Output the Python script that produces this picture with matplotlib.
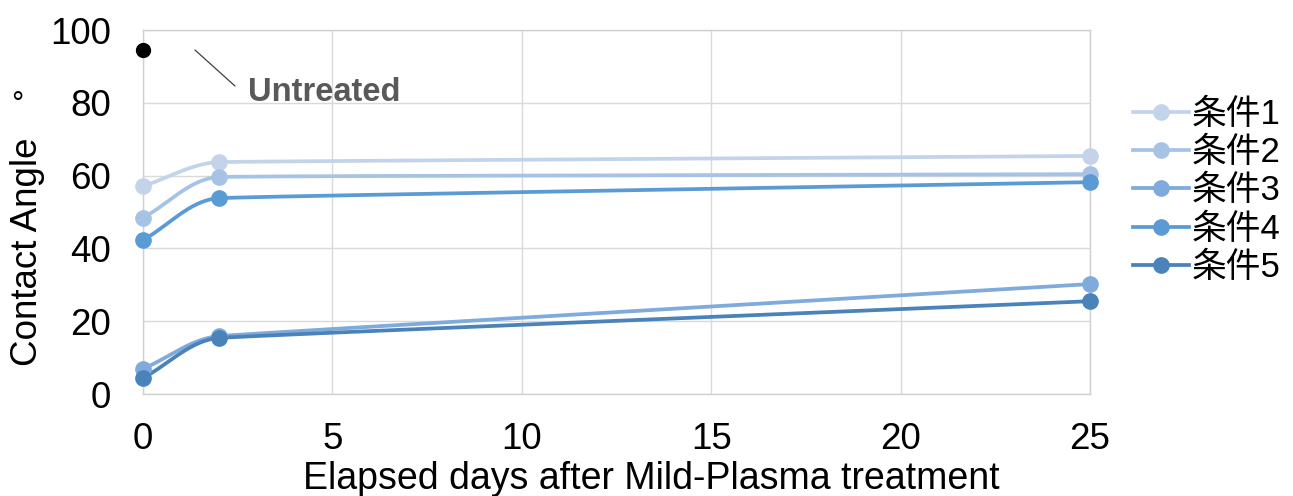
import numpy as np
import matplotlib
matplotlib.use('Agg')
import matplotlib.pyplot as plt
from matplotlib.transforms import offset_copy

plt.rcParams['font.family'] = ['Liberation Sans', 'Noto Sans CJK JP', 'DejaVu Sans']

# data
days = [0, 2, 25]
series_names = ['条件1', '条件2', '条件3', '条件4', '条件5']
series_values = [
    [57.1, 63.7, 65.4],
    [48.4, 59.6, 60.4],
    [6.9, 15.9, 30.2],
    [42.3, 53.8, 58.2],
    [4.4, 15.4, 25.5],
]
series_colors = ['#c3d4ea', '#a6c3e5', '#7eaadc', '#5b9bd5', '#4a82ba']
untreated_day = 0
untreated_angle = 94.5


def smooth(ax, x, y, n=200):
    # spreadsheet-style smoothed line: cubic Bezier pieces built in screen space
    P = ax.transData.transform(np.column_stack([x, y]).astype(float))
    k = len(P)
    L = np.hypot(*(np.diff(P, axis=0).T))
    T = np.zeros_like(P)
    for i in range(1, k - 1):
        v = P[i + 1] - P[i - 1]
        T[i] = v / np.hypot(*v)
    T[0] = (P[1] - P[0]) / L[0]
    T[-1] = (P[-1] - P[-2]) / L[-1]
    pts = []
    t = np.linspace(0, 1, n)[:, None]
    for i in range(k - 1):
        a = L[i] if i == 0 else min(L[i - 1], L[i])
        b = L[i] if i == k - 2 else min(L[i], L[i + 1])
        c1 = P[i] + T[i] * a / 3
        c2 = P[i + 1] - T[i + 1] * b / 3
        seg = ((1 - t) ** 3 * P[i] + 3 * (1 - t) ** 2 * t * c1
               + 3 * (1 - t) * t ** 2 * c2 + t ** 3 * P[i + 1])
        pts.append(seg)
    d = ax.transData.inverted().transform(np.vstack(pts))
    return d[:, 0], d[:, 1]


fig = plt.figure(figsize=(12.93, 4.96), dpi=100)
ax = fig.add_axes([0.1106, 0.2056, 0.7324, 0.7339])
ax.set_xlim(0, 25)
ax.set_ylim(0, 100)

for name, vals, col in zip(series_names, series_values, series_colors):
    sx, sy = smooth(ax, days, vals)
    ax.plot(sx, sy, color=col, lw=2.7, clip_on=False, zorder=3)
    ax.plot(days, vals, 'o', color=col, ms=11, clip_on=False, zorder=4)
    ax.plot([], [], '-o', color=col, lw=2.7, ms=11, label=name)

ax.plot([untreated_day], [untreated_angle], 'o', color='black', ms=10, clip_on=False, zorder=5)

# leader line and label for the untreated point
t1 = offset_copy(ax.transData, fig=fig, x=52, y=0, units='dots')
ax.annotate('', xy=(untreated_day, untreated_angle), xycoords=t1,
            xytext=(40, -36), textcoords='offset pixels',
            arrowprops=dict(arrowstyle='-', color='#404040', lw=0.9,
                            shrinkA=0, shrinkB=0))
ax.annotate('Untreated', xy=(untreated_day, untreated_angle),
            xytext=(105, -42), textcoords='offset pixels',
            ha='left', va='center', fontsize=23.5, fontweight='bold', color='#595959')

ax.set_xticks(range(0, 26, 5))
ax.set_yticks(range(0, 101, 20))
ax.grid(True, color='#d9d9d9', lw=1)
ax.set_axisbelow(True)
for s in ax.spines.values():
    s.set_color('#d0d0d0')
    s.set_linewidth(1)
ax.tick_params(length=0, labelsize=26.5, colors='black')
ax.tick_params(axis='x', pad=20)
ax.tick_params(axis='y', pad=23)

fig.text(28 / 1293, 1 - 252 / 496, 'Contact Angle', rotation=90,
         ha='center', va='center', fontsize=26.5)
fig.text(17 / 1293, 1 - 113 / 496, '°', ha='center', va='baseline', fontsize=22)
fig.text(651 / 1293, 7 / 496, 'Elapsed days after Mild-Plasma treatment',
         ha='center', va='baseline', fontsize=27)

ax.legend(loc='center left', bbox_to_anchor=(1133 / 1293, 1 - 191 / 496),
          bbox_transform=fig.transFigure, frameon=False, fontsize=25,
          handlelength=1.6, handletextpad=0.1, labelspacing=0.15,
          borderpad=0, borderaxespad=0)

fig.savefig('out.png', dpi=100)
